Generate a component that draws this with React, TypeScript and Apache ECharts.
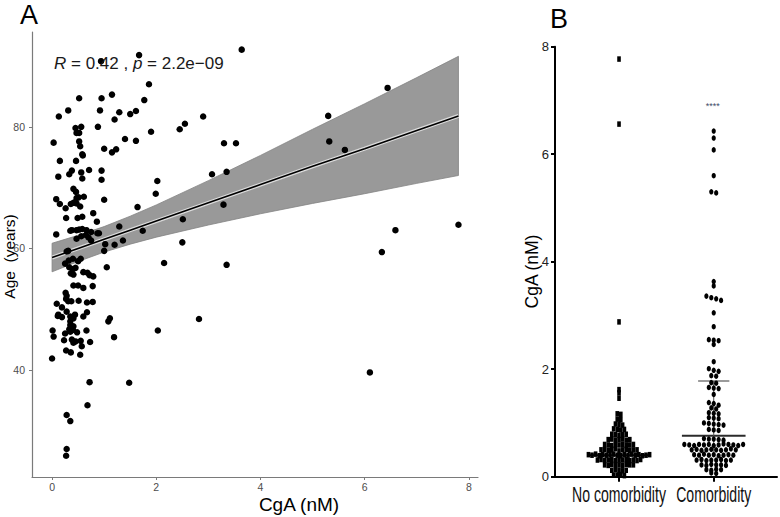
import React, { useEffect, useRef } from "react";
import * as echarts from "echarts";

// ---------- Panel A data: [CgA (nM), Age (years)] ----------
const pointsA: number[][] = [
  [3.64, 92.7], [1.67, 91.8], [0.94, 90.8], [1.86, 87.0], [6.44, 86.4],
  [0.52, 84.7], [0.95, 84.7], [1.15, 85.3], [1.77, 84.4],
  [0.31, 82.7], [0.92, 82.7], [0.13, 81.7], [1.29, 82.4], [1.5, 82.1], [1.61, 82.6], [1.2, 81.2], [2.9, 81.7], [5.3, 81.8],
  [0.88, 80.0], [2.45, 79.6], [2.55, 80.5], [1.9, 79.2], [0.45, 79.8], [0.56, 80.0], [0.47, 79.0], [0.52, 79.0],
  [0.03, 77.4], [0.52, 77.6], [0.54, 76.8], [1.4, 78.0], [1.61, 77.7], [5.32, 77.6], [5.62, 76.2], [3.3, 77.3], [3.53, 77.3],
  [1.0, 76.4], [1.23, 76.3], [1.15, 75.8], [0.58, 75.5], [0.59, 75.3],
  [0.15, 74.4], [0.46, 74.4],
  [0.71, 72.9], [0.56, 72.5], [0.38, 72.8], [0.33, 72.2], [0.12, 71.8], [0.58, 71.5], [0.95, 72.8], [0.95, 71.3],
  [3.07, 72.2], [3.35, 72.6], [2.02, 71.1],
  [1.99, 69.0], [0.41, 69.8], [0.46, 69.3], [0.61, 68.5], [0.47, 68.3], [0.51, 68.4], [0.08, 68.1], [0.15, 67.3],
  [0.36, 67.3], [0.41, 67.5], [0.47, 67.4], [0.44, 67.6], [1.0, 68.0], [0.26, 66.6], [0.54, 66.9], [1.64, 66.8], [3.29, 67.2],
  [0.79, 65.8], [0.27, 65.0], [0.49, 65.0], [0.58, 65.2], [0.86, 64.4], [2.51, 64.8],
  [0.08, 62.3], [0.35, 62.9], [0.38, 63.0], [0.47, 63.0], [0.52, 63.1], [0.58, 63.2], [0.66, 63.0], [0.75, 62.7],
  [0.87, 62.5], [0.9, 62.5], [1.29, 63.6], [1.74, 62.9],
  [0.47, 61.6], [0.56, 62.0], [0.65, 62.2], [0.7, 61.8], [0.75, 61.3], [1.36, 61.3], [2.5, 61.0], [1.02, 60.7], [1.2, 60.6],
  [6.59, 63.0], [7.8, 63.9], [6.33, 59.4], [0.28, 59.5], [0.31, 59.6], [1.0, 59.6],
  [0.25, 57.5], [0.32, 58.0], [0.4, 58.3], [0.5, 57.9], [0.55, 58.3], [0.33, 56.9], [0.4, 56.6], [0.45, 56.8],
  [2.15, 57.6], [3.35, 57.3], [1.05, 56.9], [0.68, 56.0], [0.72, 55.6], [0.79, 55.4], [0.41, 55.7], [0.36, 55.9], [0.6, 56.1],
  [0.41, 53.9], [0.5, 53.9], [0.6, 53.5], [0.78, 53.8],
  [0.09, 50.9], [0.26, 52.7], [0.28, 52.2], [0.27, 51.7], [0.37, 51.3], [0.51, 51.4], [0.67, 51.1], [0.78, 51.2], [0.31, 51.3],
  [0.11, 48.9], [0.19, 50.3], [0.28, 49.6], [0.12, 49.1], [0.19, 48.7], [0.35, 48.8], [0.41, 48.5], [0.35, 48.0],
  [0.44, 49.1], [0.6, 48.8], [0.67, 49.5], [0.35, 47.4], [0.41, 47.2], [0.33, 46.7],
  [0.01, 46.5], [0.03, 45.5], [0.25, 46.0], [0.35, 46.3], [0.4, 46.6], [0.48, 46.2], [0.66, 46.5],
  [0.23, 44.9], [0.38, 45.0], [0.41, 44.5], [0.45, 44.7], [0.55, 44.8], [0.73, 44.6], [0.57, 43.9],
  [0.27, 43.2], [0.36, 42.9], [0.54, 42.5], [0.0, 41.9],
  [1.11, 48.5], [1.08, 48.0], [1.19, 45.4], [2.03, 46.5], [2.82, 48.4],
  [6.1, 39.6], [0.72, 38.0], [1.48, 37.9], [0.68, 34.2], [0.28, 32.6], [0.35, 31.6], [0.28, 27.0], [0.27, 25.9],
];

// Regression line and confidence band
const fitX = [0, 0.5, 1, 1.5, 2, 3, 4, 5, 6, 7, 7.8];
const fitY = [58.5, 60.0, 61.5, 63.0, 64.5, 67.5, 70.5, 73.5, 76.4, 79.4, 81.8];
const bandLower = [56.15, 57.85, 59.4, 60.7, 61.85, 63.85, 65.7, 67.4, 69.0, 70.7, 72.0];
const bandUpper = [60.85, 62.15, 63.6, 65.3, 67.15, 71.15, 75.3, 79.6, 83.8, 88.1, 91.6];

const xTicksA = [0, 2, 4, 6, 8];
const yTicksA = [40, 60, 80];
const corrLabel = "{i|R} = 0.42 , {i|p} = 2.2e\u221209";

// ---------- Panel B data: CgA (nM) ----------
const groupNames = ["No comorbidity", "Comorbidity"];
const noComorbidity = [
  7.77, 6.56, 2.88, 1.62, 1.56, 1.46,
  1.17, 1.16,
  1.07, 1.06,
  0.98, 0.97, 0.96,
  0.89, 0.88, 0.87, 0.88,
  0.79, 0.78, 0.77, 0.78, 0.79,
  0.69, 0.7, 0.68, 0.69, 0.7, 0.68, 0.69,
  0.6, 0.59, 0.58, 0.6, 0.59, 0.6, 0.58, 0.59, 0.6,
  0.5, 0.51, 0.49, 0.5, 0.52, 0.48, 0.5, 0.51, 0.49, 0.5, 0.5,
  0.41, 0.4, 0.42, 0.39, 0.41, 0.4, 0.41, 0.42, 0.4, 0.39, 0.41, 0.4, 0.42, 0.4, 0.41, 0.39, 0.4, 0.41,
  0.31, 0.32, 0.3, 0.31, 0.32, 0.3, 0.31, 0.31, 0.32, 0.3, 0.31, 0.3, 0.32,
  0.22, 0.21, 0.23, 0.22, 0.22, 0.21, 0.23, 0.22, 0.22,
  0.12, 0.13, 0.12, 0.11, 0.12,
  0.03, 0.03, 0.04, 0.02,
];
const comorbidity = [
  6.43, 6.3, 6.08, 5.6, 5.3, 5.28,
  3.63, 3.55, 3.36, 3.33, 3.31, 3.28,
  3.05, 2.79,
  2.55, 2.54, 2.53, 2.46,
  2.14, 2.01, 1.98, 1.96,
  1.88, 1.87,
  1.75, 1.74,
  1.66, 1.65, 1.64,
  1.53,
  1.38, 1.36, 1.33,
  1.28, 1.26,
  1.19, 1.18, 1.17,
  1.1, 1.09, 1.08,
  1.0, 0.99, 0.98, 0.97, 0.96,
  0.88, 0.87, 0.86,
  0.71, 0.7, 0.7, 0.69, 0.68,
  0.6, 0.59, 0.58, 0.6, 0.59, 0.6, 0.58, 0.59, 0.61, 0.6, 0.59, 0.58, 0.6,
  0.5, 0.51, 0.49, 0.5, 0.51, 0.5, 0.49, 0.5, 0.52, 0.5,
  0.41, 0.4, 0.42, 0.4, 0.41, 0.39, 0.4, 0.41, 0.4,
  0.31, 0.32, 0.3, 0.31, 0.31, 0.32, 0.3, 0.31,
  0.22, 0.21, 0.23, 0.22, 0.22, 0.21,
  0.13, 0.12, 0.14, 0.13,
  0.07, 0.06,
];
const medianB = [0.4, 0.763];
const q1Comorbidity = 0.45;
const q3Comorbidity = 1.78;
const yTicksB = [0, 2, 4, 6, 8];
const signif = "****";

// ---------- layout helpers ----------
const GRID_B = { left: 555, top: 46.7, width: 222, height: 430 };
const XB_MIN = -0.676;
const XB_MAX = 1.668;
const UNIT_PX = GRID_B.width / (XB_MAX - XB_MIN);
const ROW_BIN = 0.094;
const ROW_BASE = 0.03;

function swarm(values: number[], center: number, spacingPx: number): number[][] {
  const rows = new Map<number, number[]>();
  const order: number[] = [];
  values.forEach((v) => {
    const k = Math.round((v - ROW_BASE) / ROW_BIN);
    if (!rows.has(k)) {
      rows.set(k, []);
      order.push(k);
    }
    rows.get(k)!.push(v);
  });
  const out: number[][] = [];
  order.forEach((k) => {
    const vs = rows.get(k)!;
    const n = vs.length;
    vs.forEach((v, i) => out.push([center + ((i - (n - 1) / 2) * spacingPx) / UNIT_PX, v]));
  });
  return out;
}

const SANS = '"Liberation Sans", Arial, Helvetica, sans-serif';

export default function App() {
  const ref = useRef<HTMLDivElement>(null);

  useEffect(() => {
    document.body.style.margin = "0";
    if (!ref.current) return;
    const chart = echarts.init(ref.current, undefined, { renderer: "svg" });

    const medHalf = 0.336;
    const q3Half = 0.165;

    const option: any = {
      animation: false,
      backgroundColor: "#ffffff",
      grid: [
        { left: 32, top: 32, width: 446, height: 445 },
        { left: GRID_B.left, top: GRID_B.top, width: GRID_B.width, height: GRID_B.height },
      ],
      xAxis: [
        {
          gridIndex: 0,
          type: "value",
          min: -0.385,
          max: 8.175,
          splitLine: { show: false },
          axisLine: { show: true, onZero: false, lineStyle: { color: "#7a7a7a", width: 1.2 } },
          axisTick: { show: true, length: 3, customValues: xTicksA, lineStyle: { color: "#7a7a7a", width: 1 } },
          axisLabel: { customValues: xTicksA, color: "#4d4d4d", fontSize: 10.5, fontFamily: SANS, margin: 4 },
        },
        {
          gridIndex: 1,
          type: "value",
          min: XB_MIN,
          max: XB_MAX,
          splitLine: { show: false },
          axisLine: { show: true, onZero: false, lineStyle: { color: "#000", width: 2 } },
          axisTick: { show: true, length: 5, customValues: [0, 1], lineStyle: { color: "#000", width: 2 } },
          axisLabel: { show: false },
        },
      ],
      yAxis: [
        {
          gridIndex: 0,
          type: "value",
          min: 22.4,
          max: 95.6,
          splitLine: { show: false },
          axisLine: { show: true, onZero: false, lineStyle: { color: "#7a7a7a", width: 1.2 } },
          axisTick: { show: true, length: 3, customValues: yTicksA, lineStyle: { color: "#7a7a7a", width: 1 } },
          axisLabel: { customValues: yTicksA, color: "#4d4d4d", fontSize: 10.5, fontFamily: SANS, margin: 7 },
        },
        {
          gridIndex: 1,
          type: "value",
          min: 0,
          max: 8,
          splitLine: { show: false },
          axisLine: { show: true, onZero: false, lineStyle: { color: "#000", width: 2 } },
          axisTick: { show: true, length: 4, customValues: yTicksB, lineStyle: { color: "#000", width: 2 } },
          axisLabel: { customValues: yTicksB, color: "#222", fontSize: 13, fontFamily: SANS, margin: 6 },
        },
      ],
      series: [
        {
          type: "custom",
          xAxisIndex: 0,
          yAxisIndex: 0,
          silent: true,
          z: 1,
          data: [[fitX[0], fitY[0]]],
          renderItem: (_p: any, api: any) => {
            const pts: number[][] = fitX.map((x, i) => api.coord([x, bandUpper[i]]));
            for (let i = fitX.length - 1; i >= 0; i--) pts.push(api.coord([fitX[i], bandLower[i]]));
            return {
              type: "polygon",
              shape: { points: pts },
              style: { fill: "#999999", stroke: "#838383", lineWidth: 0.8 },
            };
          },
        },
        {
          type: "line",
          xAxisIndex: 0,
          yAxisIndex: 0,
          z: 2,
          symbol: "none",
          silent: true,
          data: fitX.map((x, i) => [x, fitY[i]]),
          lineStyle: { color: "#dcdcdc", width: 4 },
        },
        {
          type: "line",
          xAxisIndex: 0,
          yAxisIndex: 0,
          z: 3,
          symbol: "none",
          silent: true,
          data: fitX.map((x, i) => [x, fitY[i]]),
          lineStyle: { color: "#000", width: 1.6 },
        },
        {
          type: "scatter",
          xAxisIndex: 0,
          yAxisIndex: 0,
          z: 4,
          symbol: "circle",
          symbolSize: 6.5,
          itemStyle: { color: "#000", opacity: 1 },
          data: pointsA,
        },
        // Panel B summary lines
        {
          type: "line",
          xAxisIndex: 1,
          yAxisIndex: 1,
          z: 2,
          symbol: "none",
          silent: true,
          data: [[0 - medHalf, medianB[0]], [0 + medHalf, medianB[0]]],
          lineStyle: { color: "#111", width: 2 },
        },
        {
          type: "line",
          xAxisIndex: 1,
          yAxisIndex: 1,
          z: 2,
          symbol: "none",
          silent: true,
          data: [[1 - medHalf, medianB[1]], [1 + medHalf, medianB[1]]],
          lineStyle: { color: "#2b2b2b", width: 2 },
        },
        {
          type: "line",
          xAxisIndex: 1,
          yAxisIndex: 1,
          z: 2,
          symbol: "none",
          silent: true,
          data: [[1 - q3Half, q3Comorbidity], [1 + q3Half, q3Comorbidity]],
          lineStyle: { color: "#7a7a7a", width: 1.6 },
        },
        {
          type: "line",
          xAxisIndex: 1,
          yAxisIndex: 1,
          z: 2,
          symbol: "none",
          silent: true,
          data: [[1, q1Comorbidity], [1, q3Comorbidity]],
          lineStyle: { color: "#555", width: 1 },
        },
        {
          type: "scatter",
          xAxisIndex: 1,
          yAxisIndex: 1,
          z: 4,
          symbol: "rect",
          symbolSize: [3.6, 5.5],
          itemStyle: { color: "#000", opacity: 1 },
          data: swarm(noComorbidity, 0, 3.6),
        },
        {
          type: "scatter",
          xAxisIndex: 1,
          yAxisIndex: 1,
          z: 4,
          symbol: "circle",
          symbolSize: [4.2, 5.5],
          itemStyle: { color: "#000", opacity: 1 },
          data: swarm(comorbidity, 1, 4.9),
        },
      ],
    };

    chart.setOption(option);

    // category labels of panel B, placed through the axis scale (condensed like the reference)
    const xAxisY = chart.convertToPixel({ yAxisIndex: 1 }, 0) as number;
    const catLabels = groupNames.map((name, i) => ({
      type: "text",
      x: chart.convertToPixel({ xAxisIndex: 1 }, i) as number,
      y: xAxisY + 17.5,
      scaleX: 0.64,
      style: { text: name, fontSize: 22, fontFamily: SANS, fill: "#111", align: "center", verticalAlign: "middle" },
    }));

    chart.setOption({
      graphic: [
        {
          type: "text",
          x: 20,
          y: 15,
          style: { text: "A", fontSize: 27, fontFamily: SANS, fill: "#000", align: "left", verticalAlign: "middle" },
        },
        {
          type: "text",
          x: 550,
          y: 18.5,
          style: { text: "B", fontSize: 27, fontFamily: SANS, fill: "#000", align: "left", verticalAlign: "middle" },
        },
        {
          type: "text",
          x: 54,
          y: 63,
          z: 10,
          style: {
            text: corrLabel,
            fontSize: 17,
            fontFamily: SANS,
            fill: "#1a1a1a",
            align: "left",
            verticalAlign: "middle",
            rich: { i: { fontStyle: "italic", fontSize: 17, fontFamily: SANS, fill: "#1a1a1a" } },
          },
        },
        {
          type: "text",
          x: 299,
          y: 504.5,
          style: { text: "CgA (nM)", fontSize: 19, fontFamily: SANS, fill: "#000", align: "center", verticalAlign: "middle" },
        },
        {
          type: "text",
          x: 9.5,
          y: 256.5,
          rotation: Math.PI / 2,
          style: { text: "Age  (years)", fontSize: 15.5, fontFamily: SANS, fill: "#000", align: "center", verticalAlign: "middle" },
        },
        {
          type: "text",
          x: 531.5,
          y: 271.5,
          rotation: Math.PI / 2,
          style: { text: "CgA (nM)", fontSize: 17.5, fontFamily: SANS, fill: "#000", align: "center", verticalAlign: "middle" },
        },
        {
          type: "text",
          x: 712.7,
          y: 106,
          style: { text: signif, fontSize: 9, fontFamily: SANS, fill: "#3d4a66", align: "center", verticalAlign: "middle" },
        },
        ...catLabels,
      ],
    });

    return () => chart.dispose();
  }, []);

  return <div ref={ref} style={{ width: 780, height: 517 }} />;
}
